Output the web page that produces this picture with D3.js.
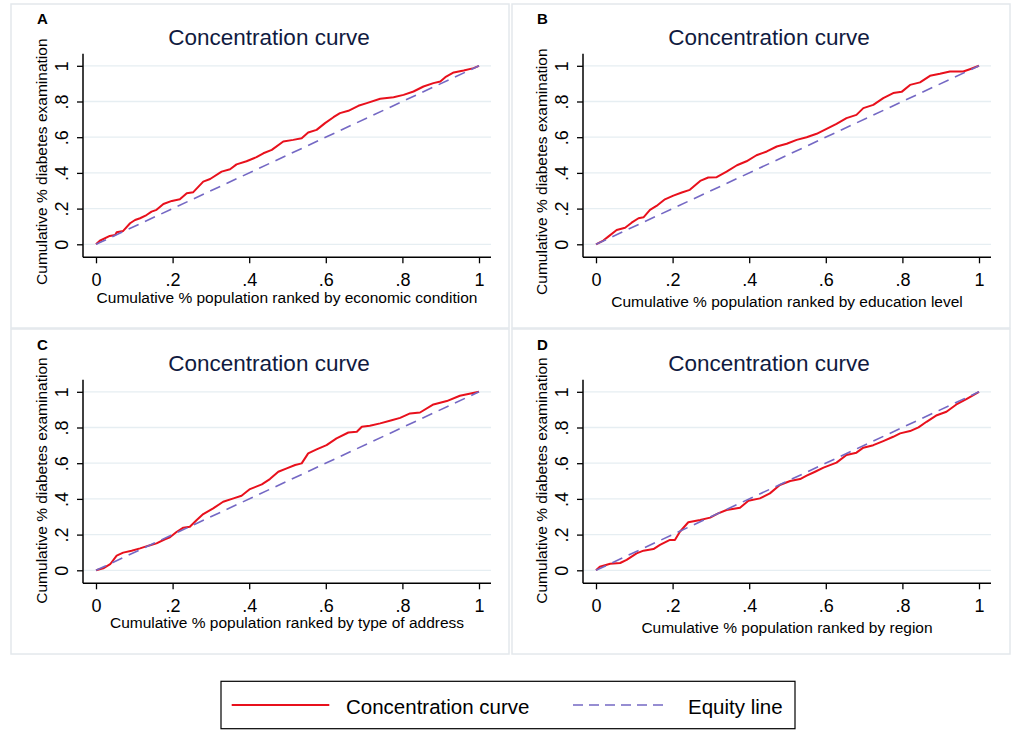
<!DOCTYPE html>
<html>
<head>
<meta charset="utf-8">
<script src="https://cdn.jsdelivr.net/npm/d3@7"></script>
<style>
  body { margin: 0; background: #fff; }
  svg { display: block; font-family: "Liberation Sans", Arial, sans-serif; }
</style>
</head>
<body>
<svg id="chart" width="1021" height="737"></svg>
<script>
// axis ticks, shared by every panel
const tickValues = [0, 0.2, 0.4, 0.6, 0.8, 1];
const tickLabels = ["0", ".2", ".4", ".6", ".8", "1"];

// equity line (diagonal)
const equityX = [0, 1];
const equityY = [0, 1];

// panel titles / labels
const panelLetters = ["A", "B", "C", "D"];
const xTitles = [
  "Cumulative % population ranked by economic condition",
  "Cumulative % population ranked by education level",
  "Cumulative % population ranked by type of address",
  "Cumulative % population ranked by region"
];
const yTitle = "Cumulative % diabetes examination";
const legendLabels = ["Concentration curve", "Equity line"];

// concentration curves
const econX = [0, 0.01, 0.036, 0.05, 0.054, 0.071, 0.089, 0.102, 0.115, 0.132, 0.145, 0.158, 0.176, 0.198, 0.219, 0.237, 0.254, 0.28, 0.298, 0.328, 0.35, 0.367, 0.393, 0.419, 0.437, 0.459, 0.489, 0.515, 0.537, 0.554, 0.576, 0.598, 0.62, 0.637, 0.659, 0.685, 0.707, 0.742, 0.777, 0.803, 0.829, 0.855, 0.881, 0.899, 0.912, 0.934, 0.96, 0.986, 1];
const econY = [0, 0.02, 0.047, 0.052, 0.067, 0.075, 0.118, 0.136, 0.146, 0.164, 0.183, 0.193, 0.226, 0.243, 0.252, 0.286, 0.292, 0.351, 0.366, 0.407, 0.42, 0.448, 0.465, 0.488, 0.51, 0.529, 0.576, 0.585, 0.594, 0.626, 0.641, 0.679, 0.712, 0.735, 0.748, 0.776, 0.791, 0.815, 0.824, 0.837, 0.856, 0.884, 0.903, 0.912, 0.936, 0.963, 0.974, 0.987, 1];

const eduX = [0, 0.019, 0.032, 0.054, 0.076, 0.093, 0.111, 0.124, 0.141, 0.158, 0.18, 0.202, 0.224, 0.245, 0.272, 0.293, 0.315, 0.341, 0.368, 0.393, 0.419, 0.446, 0.472, 0.498, 0.524, 0.55, 0.576, 0.602, 0.628, 0.654, 0.68, 0.698, 0.724, 0.75, 0.776, 0.798, 0.82, 0.846, 0.872, 0.898, 0.924, 0.959, 0.976, 1];
const eduY = [0, 0.021, 0.043, 0.08, 0.093, 0.121, 0.146, 0.151, 0.193, 0.215, 0.252, 0.273, 0.29, 0.305, 0.355, 0.374, 0.376, 0.407, 0.443, 0.465, 0.499, 0.52, 0.548, 0.563, 0.585, 0.6, 0.619, 0.647, 0.675, 0.707, 0.725, 0.763, 0.781, 0.819, 0.847, 0.854, 0.893, 0.907, 0.944, 0.955, 0.968, 0.968, 0.981, 1];

const addrX = [0, 0.019, 0.037, 0.054, 0.071, 0.093, 0.115, 0.137, 0.158, 0.18, 0.193, 0.211, 0.228, 0.245, 0.263, 0.28, 0.306, 0.332, 0.359, 0.38, 0.402, 0.433, 0.454, 0.476, 0.498, 0.52, 0.537, 0.554, 0.576, 0.602, 0.628, 0.659, 0.681, 0.694, 0.715, 0.742, 0.772, 0.794, 0.82, 0.846, 0.881, 0.916, 0.95, 1];
const addrY = [0, 0.011, 0.034, 0.082, 0.099, 0.11, 0.123, 0.138, 0.151, 0.174, 0.185, 0.216, 0.239, 0.244, 0.282, 0.315, 0.347, 0.384, 0.403, 0.418, 0.455, 0.481, 0.511, 0.552, 0.571, 0.59, 0.599, 0.655, 0.677, 0.701, 0.739, 0.772, 0.776, 0.804, 0.81, 0.823, 0.841, 0.854, 0.879, 0.884, 0.929, 0.948, 0.978, 1];

const regionX = [0, 0.01, 0.037, 0.063, 0.08, 0.106, 0.124, 0.15, 0.167, 0.193, 0.206, 0.219, 0.241, 0.272, 0.298, 0.319, 0.341, 0.376, 0.398, 0.428, 0.454, 0.48, 0.507, 0.533, 0.55, 0.572, 0.594, 0.628, 0.654, 0.68, 0.698, 0.724, 0.75, 0.776, 0.794, 0.82, 0.842, 0.863, 0.89, 0.915, 0.941, 0.967, 1];
const regionY = [0, 0.02, 0.037, 0.041, 0.058, 0.095, 0.11, 0.119, 0.142, 0.17, 0.17, 0.216, 0.269, 0.282, 0.295, 0.319, 0.338, 0.351, 0.39, 0.403, 0.431, 0.478, 0.5, 0.511, 0.53, 0.552, 0.575, 0.603, 0.646, 0.659, 0.687, 0.701, 0.724, 0.748, 0.767, 0.78, 0.801, 0.832, 0.869, 0.888, 0.929, 0.959, 1];

const curvesX = [econX, eduX, addrX, regionX];
const curvesY = [econY, eduY, addrY, regionY];

const RED = "#e8101c";
const BLUE = "#7468c4";
const NAVY = "#101a40";

const svg = d3.select("#chart");

// panel placement (left col / right col, top row / bottom row)
const colX0 = [96, 596];
const rowY0 = [244.3, 570.3];
const plotW = 383, plotH = 178.5;
const frames = [[11, 4, 498, 324], [512, 4, 498, 324], [11, 329, 498, 325], [512, 329, 498, 325]];
const yTitleMid = [161.7, 171.7, 480.5, 480.5];
const xTitleDy = [58.4, 62.4, 58, 63];

const zip = (xs, ys) => xs.map((x, i) => [x, ys[i]]);

panelLetters.forEach((letter, i) => {
  const x0 = colX0[i % 2];
  const y0 = rowY0[Math.floor(i / 2)];
  const x = d3.scaleLinear().domain([0, 1]).range([x0, x0 + plotW]);
  const y = d3.scaleLinear().domain([0, 1]).range([y0, y0 - plotH]);
  const g = svg.append("g");

  // light panel frame
  const f = frames[i];
  g.append("rect")
    .attr("x", f[0]).attr("y", f[1]).attr("width", f[2]).attr("height", f[3])
    .attr("fill", "none").attr("stroke", "#e3e8ec").attr("stroke-width", 1.5);

  // grid lines
  g.selectAll(".grid")
    .data(tickValues)
    .enter().append("line")
    .attr("x1", x0 - 12).attr("x2", x0 + plotW + 12)
    .attr("y1", d => y(d)).attr("y2", d => y(d))
    .attr("stroke", "#e6eef2").attr("stroke-width", 1.3);

  // y axis (labels rotated, Stata style)
  const yAxis = g.append("g")
    .attr("transform", "translate(" + (x0 - 13) + ",0)")
    .call(d3.axisLeft(y).tickValues(tickValues)
      .tickFormat((d, k) => tickLabels[k]).tickSize(6).tickSizeOuter(0));
  yAxis.select(".domain").remove();
  yAxis.append("line")
    .attr("x1", 0).attr("x2", 0)
    .attr("y1", y(1) - 12).attr("y2", y0 + 13)
    .attr("stroke", "#000").attr("stroke-width", 1.5);
  yAxis.selectAll(".tick line").attr("stroke", "#000").attr("stroke-width", 1.3);
  yAxis.selectAll(".tick text")
    .attr("x", null).attr("dy", null)
    .attr("text-anchor", "middle")
    .attr("transform", "translate(-15,0) rotate(-90)")
    .attr("font-size", 18).attr("fill", "#000")
    .attr("font-family", "Liberation Sans, Arial, sans-serif");

  // x axis
  const xAxis = g.append("g")
    .attr("transform", "translate(0," + (y0 + 13) + ")")
    .call(d3.axisBottom(x).tickValues(tickValues)
      .tickFormat((d, k) => tickLabels[k]).tickSize(6).tickSizeOuter(0));
  xAxis.select(".domain").remove();
  xAxis.append("line")
    .attr("x1", x0 - 13).attr("x2", x0 + plotW + 12)
    .attr("y1", 0).attr("y2", 0)
    .attr("stroke", "#000").attr("stroke-width", 1.5);
  xAxis.selectAll(".tick line").attr("stroke", "#000").attr("stroke-width", 1.3);
  xAxis.selectAll(".tick text")
    .attr("y", 29).attr("dy", null)
    .attr("font-size", 18).attr("fill", "#000")
    .attr("font-family", "Liberation Sans, Arial, sans-serif");

  // titles
  g.append("text")
    .attr("x", x0 + 173).attr("y", y0 - plotH - 21)
    .attr("text-anchor", "middle").attr("font-size", 22.5).attr("fill", NAVY)
    .text("Concentration curve");
  g.append("text")
    .attr("x", x0 - 59).attr("y", y0 - plotH - 42)
    .attr("font-size", 15).attr("font-weight", "bold").attr("fill", "#000")
    .text(letter);
  g.append("text")
    .attr("transform", "translate(" + (x0 - 49.3) + "," + yTitleMid[i] + ") rotate(-90)")
    .attr("text-anchor", "middle").attr("font-size", 15.5).attr("fill", "#000")
    .text(yTitle);
  g.append("text")
    .attr("x", x0 + 191).attr("y", y0 + xTitleDy[i])
    .attr("text-anchor", "middle").attr("font-size", 15.5).attr("fill", "#000")
    .text(xTitles[i]);

  // lines
  const line = d3.line().x(d => x(d[0])).y(d => y(d[1]));
  g.append("path")
    .datum(zip(curvesX[i], curvesY[i]))
    .attr("d", line)
    .attr("fill", "none").attr("stroke", RED).attr("stroke-width", 2)
    .attr("stroke-linejoin", "round");
  g.append("path")
    .datum(zip(equityX, equityY))
    .attr("d", line)
    .attr("fill", "none").attr("stroke", BLUE).attr("stroke-width", 1.6)
    .attr("stroke-dasharray", "11,7");
});

// legend
const lg = svg.append("g");
lg.append("rect")
  .attr("x", 221).attr("y", 681.3).attr("width", 574).attr("height", 47.4)
  .attr("fill", "#fff").attr("stroke", "#000").attr("stroke-width", 1.2);
const legendStyles = [
  { x1: 231.7, x2: 329.3, tx: 346, color: RED, dash: null, w: 2 },
  { x1: 573, x2: 668, tx: 688, color: BLUE, dash: "10,6", w: 1.6 }
];
legendLabels.forEach((lab, k) => {
  const s = legendStyles[k];
  lg.append("line")
    .attr("x1", s.x1).attr("x2", s.x2).attr("y1", 705).attr("y2", 705)
    .attr("stroke", s.color).attr("stroke-width", s.w)
    .attr("stroke-dasharray", s.dash);
  lg.append("text")
    .attr("x", s.tx).attr("y", 713.5)
    .attr("font-size", 20.5).attr("fill", "#000")
    .text(lab);
});
</script>
</body>
</html>
